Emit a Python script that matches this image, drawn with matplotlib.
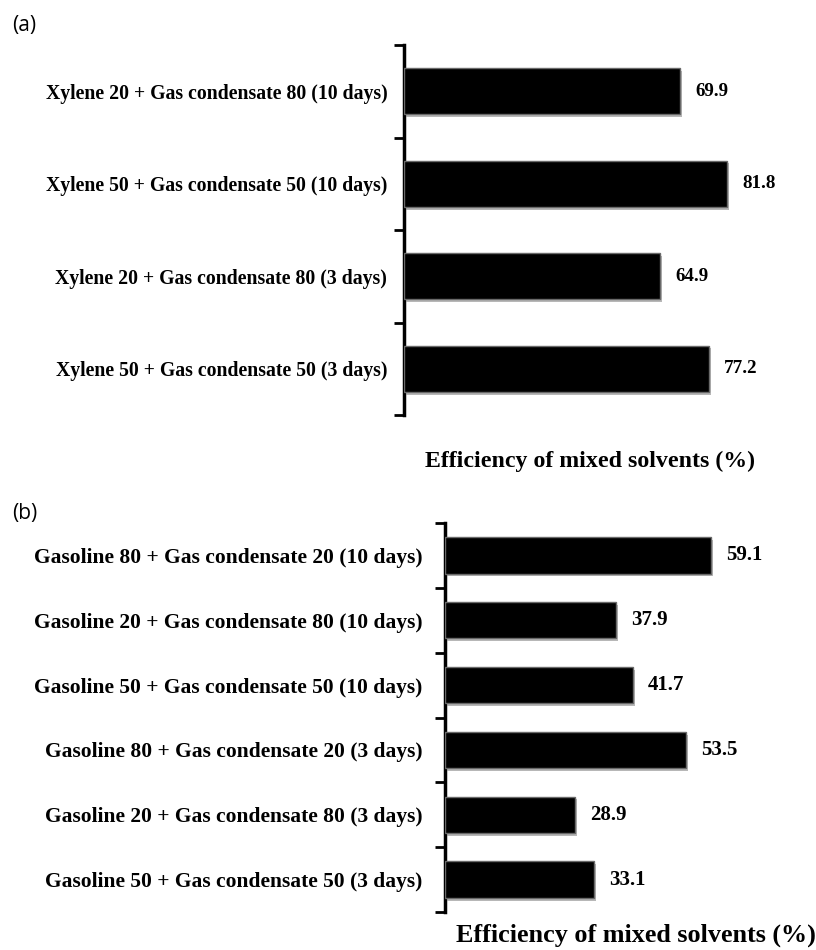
import matplotlib.pyplot as plt
import matplotlib.patheffects as pe

# Panel (a): xylene / gas condensate mixtures
labels_a = ["Xylene 20 + Gas condensate 80 (10 days)",
            "Xylene 50 + Gas condensate 50 (10 days)",
            "Xylene 20 + Gas condensate 80 (3 days)",
            "Xylene 50 + Gas condensate 50 (3 days)"]
values_a = [69.9, 81.8, 64.9, 77.2]

# Panel (b): gasoline / gas condensate mixtures
labels_b = ["Gasoline 80 + Gas condensate 20 (10 days)",
            "Gasoline 20 + Gas condensate 80 (10 days)",
            "Gasoline 50 + Gas condensate 50 (10 days)",
            "Gasoline 80 + Gas condensate 20 (3 days)",
            "Gasoline 20 + Gas condensate 80 (3 days)",
            "Gasoline 50 + Gas condensate 50 (3 days)"]
values_b = [59.1, 37.9, 41.7, 53.5, 28.9, 33.1]

xlabel = "Efficiency of mixed solvents (%)"
serif = "Liberation Serif"

fig = plt.figure(figsize=(8.16, 9.5), dpi=100)
W, H = 816, 950


def px_axes(left, top, right, bottom):
    # axes from pixel box
    return fig.add_axes([left / W, 1 - bottom / H, (right - left) / W, (bottom - top) / H])


def draw_panel(ax, labels, values, xmax, height, lab_size, val_size, xl_size, lab_pad):
    n = len(values)
    pos = list(range(n))
    bars = ax.barh(pos, values, height=height, color="black",
                   edgecolor="#6a6a6a", linewidth=1.0, zorder=3)
    for b in bars:
        b.set_path_effects([pe.SimplePatchShadow(offset=(1.5, -2), shadow_rgbFace="#888888", alpha=0.6),
                            pe.Normal()])
    ax.bar_label(bars, labels=[f"{v:.1f}" for v in values], padding=11,
                 fontsize=val_size, fontweight="bold", family=serif)
    ax.set_xlim(0, xmax)
    ax.set_ylim(n - 0.5, -0.5)
    ax.set_yticks(pos)
    ax.set_yticklabels(labels, fontsize=lab_size, fontweight="bold", family=serif)
    ax.set_yticks([i - 0.5 for i in range(n + 1)], minor=True)
    ax.tick_params(axis="y", which="major", length=0, pad=lab_pad)
    ax.tick_params(axis="y", which="minor", length=7, width=2, direction="out")
    ax.set_xticks([])
    for s in ["top", "right", "bottom"]:
        ax.spines[s].set_visible(False)
    ax.spines["left"].set_linewidth(2.5)
    ax.set_xlabel(xlabel, fontsize=xl_size, fontweight="bold", family=serif, labelpad=26)


ax_a = px_axes(404, 45, 799, 415)
draw_panel(ax_a, labels_a, values_a, 100, 0.5, 14.2, 13.7, 17.2, 12)
ax_a.xaxis.label.set_position((0.47, 0))

ax_b = px_axes(445, 523, 805, 912)
draw_panel(ax_b, labels_b, values_b, 80, 0.56, 15.5, 15, 18.8, 16)
ax_b.xaxis.label.set_position((0.53, 0))
ax_b.xaxis.labelpad = 8

fig.text(12 / W, 1 - 26 / H, "(a)", fontsize=15, family="Open Sans", va="center")
fig.text(12 / W, 1 - 514 / H, "(b)", fontsize=15, family="Open Sans", va="center")

fig.savefig("out.png", dpi=100)
